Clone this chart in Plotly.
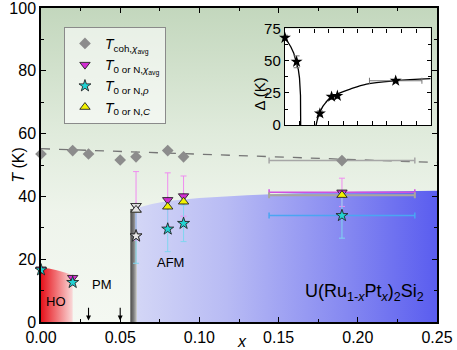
import plotly.graph_objects as go

# ---------------- data ----------------
# coherence temperature (grey diamonds)
x_coh = [0.00, 0.02, 0.03, 0.05, 0.06, 0.08, 0.09, 0.19]
T_coh = [53.5, 54.6, 53.5, 51.6, 52.6, 54.6, 52.6, 51.4]
x_coh_err = [None, None, None, None, None, None, None, 0.046]
coh_line_x = [0.00, 0.25]
coh_line_T = [55.2, 50.8]

# T0 or N from chi_avg (magenta down triangles)
x_chi = [0.00, 0.02, 0.06, 0.08, 0.09, 0.19]
T_chi = [16.8, 14.1, 37.0, 38.9, 40.1, 41.3]
T_chi_err = [None, None, 10.9, 8.6, 6.4, 4.5]
x_chi_err = [None, None, None, None, None, 0.046]

# T0 or N from resistivity (cyan stars)
x_rho = [0.00, 0.02, 0.06, 0.08, 0.09, 0.19]
T_rho = [16.6, 12.6, 27.4, 29.6, 31.4, 33.9]
T_rho_err = [None, None, 8.7, 7.2, 5.8, 7.2]
x_rho_err = [None, None, None, None, None, 0.046]

# T0 or N from specific heat (yellow up triangles)
x_C = [0.06, 0.08, 0.09, 0.19]
T_C = [35.7, 36.7, 38.3, 40.4]
x_C_err = [None, None, None, 0.046]

# composition at the first-order boundary (markers drawn hollow there)
x_boundary = 0.06

# phase boundaries
ho_x = [0.000, 0.005, 0.010, 0.015, 0.020]
ho_T = [17.2, 17.0, 16.5, 15.8, 15.0]
afm_x = [0.0605, 0.07, 0.08, 0.10, 0.13, 0.16, 0.20, 0.25]
afm_T = [36.3, 37.6, 38.5, 39.5, 40.4, 41.0, 41.5, 41.8]
band_x = [0.0564, 0.0605]
band_T = 36.0

# arrows marking x = 0.03 and 0.05
arrow_x = [0.03, 0.05]

# inset: gap Delta(x)
x_gap = [0.00, 0.02, 0.06, 0.08, 0.09, 0.19]
gap = [67.7, 49.1, 9.0, 22.0, 22.7, 34.4]
gap_err = [2.0, 4.6, 2.0, 1.0, 1.0, 1.0]
x_gap_err = [None, None, None, None, None, 0.045]
fit_lo_x = [0.000, 0.005, 0.010, 0.015, 0.020, 0.023, 0.025, 0.026, 0.0267, 0.027]
fit_lo = [68.0, 64.7, 60.8, 56.0, 49.0, 43.0, 36.4, 30.8, 23.0, 0.0]
fit_hi_x = [0.0535, 0.0555, 0.058, 0.060, 0.065, 0.070, 0.077, 0.089, 0.100, 0.112, 0.140, 0.190, 0.250]
fit_hi = [0.0, 4.0, 8.0, 10.0, 14.5, 17.5, 21.0, 23.8, 26.0, 28.0, 31.8, 34.4, 36.0]

FONT = "Arial, Liberation Sans, sans-serif"
MAG = "#d22ed2"
CYA = "#22d3d3"
YEL = "#f2f200"
HOLLOW = "#e6e6e6"

fig = go.Figure()

# background gradient (green)
fig.add_trace(go.Scatter(
    x=[0, 0.25, 0.25, 0, 0], y=[0, 0, 100, 100, 0], mode="none", fill="toself",
    fillgradient=dict(type="vertical",
                      colorscale=[[0, "#f4f8f2"], [0.35, "#eef4eb"], [0.6, "#e0ebdc"], [1, "#c3d7bd"]]),
    showlegend=False, hoverinfo="skip"))

# HO region
fig.add_trace(go.Scatter(
    x=ho_x + [ho_x[-1], ho_x[0], ho_x[0]], y=ho_T + [0, 0, ho_T[0]],
    mode="none", fill="toself",
    fillgradient=dict(type="horizontal",
                      colorscale=[[0, "#e6121b"], [0.45, "#f06a6e"], [1, "#f9d9d9"]]),
    showlegend=False, hoverinfo="skip"))

# AFM region
fig.add_trace(go.Scatter(
    x=afm_x + [afm_x[-1], afm_x[0], afm_x[0]], y=afm_T + [0, 0, afm_T[0]],
    mode="none", fill="toself",
    fillgradient=dict(type="horizontal",
                      colorscale=[[0, "#d3d6f6"], [0.3, "#b8bbf4"], [0.7, "#8588f1"], [1, "#5a5def"]]),
    showlegend=False, hoverinfo="skip"))

# grey boundary band
fig.add_trace(go.Scatter(
    x=[band_x[0], band_x[1], band_x[1], band_x[0], band_x[0]],
    y=[0, 0, band_T, band_T, 0], mode="none", fill="toself",
    fillgradient=dict(type="horizontal",
                      colorscale=[[0, "#4a4a4a"], [0.5, "#7c7c7c"], [1, "#c8c8c8"]]),
    showlegend=False, hoverinfo="skip"))

# dashed coherence trend
fig.add_trace(go.Scatter(
    x=coh_line_x, y=coh_line_T, mode="lines",
    line=dict(color="#757575", width=1.3, dash="dash"),
    showlegend=False, hoverinfo="skip"))

# legend series
fig.add_trace(go.Scatter(
    x=x_coh, y=T_coh, mode="markers", cliponaxis=False,
    name="<i>T</i><sub>coh,<i>χ</i><sub>avg</sub></sub>",
    marker=dict(symbol="diamond", size=9, color="#8c8c8c", line=dict(width=0)),
    error_x=dict(type="data", array=x_coh_err, color="#a6a6a6", thickness=1.5, width=3)))

series = [
    (x_chi, T_chi, T_chi_err, x_chi_err, "triangle-down", 9, MAG, "#f08cf0", "#d050e0",
     "<i>T</i><sub>0 or N,<i>χ</i><sub>avg</sub></sub>"),
    (x_rho, T_rho, T_rho_err, x_rho_err, "star", 9, CYA, "#7fd6f0", "#4aa6f2",
     "<i>T</i><sub>0 or N,<i>ρ</i></sub>"),
    (x_C, T_C, None, x_C_err, "triangle-up", 9, YEL, None, "#a8a89a",
     "<i>T</i><sub>0 or N,<i>C</i></sub>"),
]
for xs, ts, ey, ex, sym, sz, col, ecy, ecx, name in series:
    kw = {}
    if ey is not None:
        kw["error_y"] = dict(type="data", array=ey, color=ecy, thickness=1, width=3)
    kw["error_x"] = dict(type="data", array=ex, color=ecx,
                         thickness=1.5 if sym != "triangle-up" else 2, width=3)
    fig.add_trace(go.Scatter(
        x=xs, y=ts, mode="markers", name=name, cliponaxis=False,
        marker=dict(symbol=sym, size=sz, color=col, line=dict(color="#222", width=0.9)),
        **kw))

# hollow overlay markers at the boundary composition
for xs, ts, sym, sz in [(x_chi, T_chi, "triangle-down", 9), (x_rho, T_rho, "star", 9),
                        (x_C, T_C, "triangle-up", 9)]:
    idx = [i for i, x in enumerate(xs) if abs(x - x_boundary) < 1e-9]
    fig.add_trace(go.Scatter(
        x=[xs[i] for i in idx], y=[ts[i] for i in idx], mode="markers",
        marker=dict(symbol=sym, size=sz, color=HOLLOW, line=dict(color="#333", width=1)),
        showlegend=False, hoverinfo="skip"))

# ---------------- inset ----------------
fig.add_trace(go.Scatter(
    x=fit_lo_x, y=fit_lo, mode="lines", line=dict(color="black", width=1.3),
    xaxis="x2", yaxis="y2", showlegend=False, hoverinfo="skip"))
fig.add_trace(go.Scatter(
    x=fit_hi_x, y=fit_hi, mode="lines", line=dict(color="black", width=1.3),
    xaxis="x2", yaxis="y2", showlegend=False, hoverinfo="skip", line_shape="spline"))
fig.add_trace(go.Scatter(
    x=x_gap, y=gap, mode="markers", cliponaxis=False,
    marker=dict(symbol="star", size=9, color="black"),
    error_y=dict(type="data", array=gap_err, color="#777", thickness=1, width=3),
    error_x=dict(type="data", array=x_gap_err, color="#777", thickness=1, width=3),
    xaxis="x2", yaxis="y2", showlegend=False, hoverinfo="skip"))

# ---------------- annotations ----------------
ann = []
for xa in arrow_x:
    ann.append(dict(x=xa, y=0.5, ax=xa, ay=5.0, xref="x", yref="y", axref="x", ayref="y",
                    showarrow=True, arrowhead=2, arrowsize=0.9, arrowwidth=1.1,
                    arrowcolor="black", text=""))
ann += [
    dict(x=0.0095, y=6.5, text="HO", showarrow=False, font=dict(size=13, color="black", family=FONT)),
    dict(x=0.0385, y=12, text="PM", showarrow=False, font=dict(size=13, color="black", family=FONT)),
    dict(x=0.0815, y=19, text="AFM", showarrow=False, font=dict(size=13, color="black", family=FONT)),
    dict(x=0.204, y=9.3, text="U(Ru<sub>1-<i>x</i></sub>Pt<sub><i>x</i></sub>)<sub>2</sub>Si<sub>2</sub>",
         showarrow=False, font=dict(size=18, color="black", family=FONT)),
    dict(x=0.508, y=-0.062, xref="paper", yref="paper", text="<i>x</i>", showarrow=False,
         yanchor="middle", font=dict(size=16, color="black", family=FONT)),
    dict(x=-0.085, y=0.5, xref="paper", yref="paper", text="<i>T</i> (K)", showarrow=False,
         textangle=-90, font=dict(size=16, color="black", family=FONT)),
    dict(x=(259 - 41) / 396, y=(322 - 76) / 314, xref="paper", yref="paper", text="Δ (K)",
         showarrow=False, textangle=-90, font=dict(size=15, color="black", family=FONT)),
]

axis_common = dict(showline=True, linecolor="black", linewidth=1.5, mirror="ticks",
                   ticks="inside", ticklen=5, tickwidth=1.2, tickcolor="black",
                   showgrid=False, zeroline=False, automargin=False,
                   ticklabeloverflow="allow",
                   tickfont=dict(size=16, color="black", family=FONT))

fig.update_layout(
    width=457, height=350,
    margin=dict(l=41, r=20, t=8, b=28, autoexpand=False),
    paper_bgcolor="white", plot_bgcolor="white",
    hovermode=False,
    font=dict(family=FONT, color="black"),
    xaxis=dict(range=[0, 0.25], dtick=0.05, tickformat=".2f",
               minor=dict(dtick=0.025, ticks="inside", ticklen=3, tickcolor="black"),
               **axis_common),
    yaxis=dict(range=[0, 100], dtick=20,
               minor=dict(dtick=10, ticks="inside", ticklen=3, tickcolor="black"),
               **axis_common),
    xaxis2=dict(domain=[0.616, 0.984], anchor="y2", range=[0, 0.25], dtick=0.025,
                showticklabels=False, showline=True, linecolor="black", linewidth=1.3,
                mirror="ticks", ticks="inside", ticklen=4, tickcolor="black",
                showgrid=False, zeroline=False, automargin=False),
    yaxis2=dict(domain=[0.627, 0.935], anchor="x2", range=[0, 75], dtick=25,
                minor=dict(dtick=12.5, ticks="inside", ticklen=3, tickcolor="black"),
                showline=True, linecolor="black", linewidth=1.3, mirror="ticks",
                ticks="inside", ticklen=4, tickcolor="black", showgrid=False, zeroline=False,
                automargin=False, ticklabeloverflow="allow",
                tickfont=dict(size=15, color="black", family=FONT)),
    legend=dict(x=0.058, y=0.94, xanchor="left", yanchor="top",
                bgcolor="rgba(255,255,255,0.6)", bordercolor="#8a8a8a", borderwidth=1,
                font=dict(size=14, color="black", family=FONT), itemwidth=30),
    annotations=ann,
)

fig.write_html("out.html", config={"displayModeBar": False},
               post_script="document.body.style.margin='0';document.body.style.overflow='hidden';")
